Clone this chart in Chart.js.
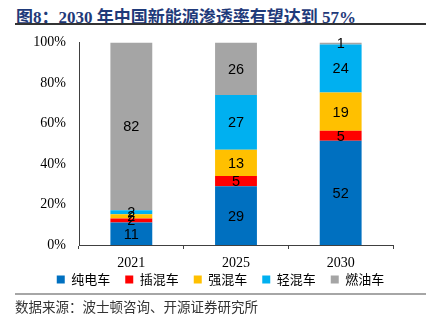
<!DOCTYPE html>
<html><head><meta charset="utf-8">
<script src="https://cdn.jsdelivr.net/npm/chart.js@4/dist/chart.umd.min.js"></script>
<style>
html,body{margin:0;padding:0;background:#fff;}
#wrap{position:relative;width:436px;height:321px;overflow:hidden;}
#title{position:absolute;left:16px;top:3px;font:bold 17px "Liberation Serif","Noto Sans CJK SC";color:#1F3A7A;white-space:nowrap;}
#tline{position:absolute;left:15px;top:23px;width:411px;height:1.5px;background:#333;}
#sline{position:absolute;left:15px;top:293px;width:411px;height:2px;background:#a6a6a6;z-index:2;}
#src{position:absolute;left:15px;top:296px;font:13.5px "Noto Sans CJK SC";color:#333;white-space:nowrap;z-index:2;}
#cv{position:absolute;left:0;top:21px;display:block;}
</style></head><body>
<div id="wrap">
<div id="title">图8：2030 年中国新能源渗透率有望达到 57%</div>
<div id="tline"></div>
<canvas id="cv" width="436" height="289"></canvas>
<div id="sline"></div>
<div id="src">数据来源：波士顿咨询、开源证券研究所</div>
</div>
<script>
const categories = ['2021', '2025', '2030'];
const seriesNames = ['纯电车', '插混车', '强混车', '轻混车', '燃油车'];
const bev  = [11, 29, 52];
const phev = [2, 5, 5];
const hev  = [2, 13, 19];
const mhev = [2, 27, 24];
const ice  = [82, 26, 1];
const yTicks = ['0%', '20%', '40%', '60%', '80%', '100%'];
const colors = ['#0070C0', '#FF0000', '#FFC000', '#00B0F0', '#A5A5A5'];

const raw = [bev, phev, hev, mhev, ice];
const totals = categories.map((c, i) => raw.reduce((s, a) => s + a[i], 0));

const datasets = raw.map((arr, k) => ({
  label: seriesNames[k],
  data: arr.map((v, i) => v / totals[i] * 100),
  rawValues: arr,
  backgroundColor: colors[k],
  borderWidth: 0,
  barPercentage: 0.4,
  categoryPercentage: 1.0
}));

const labelPlugin = {
  id: 'segLabels',
  afterLayout(chart) {
    const lg = chart.legend;
    if (lg) { lg.left += 24; lg.right += 24; lg.top -= 14; lg.bottom -= 14; }
  },
  afterDatasetsDraw(chart) {
    const ctx = chart.ctx;
    ctx.save();
    ctx.font = '14.5px "Liberation Sans", Arial';
    ctx.fillStyle = '#000';
    ctx.textAlign = 'center';
    ctx.textBaseline = 'middle';
    chart.data.datasets.forEach((ds, di) => {
      const meta = chart.getDatasetMeta(di);
      meta.data.forEach((el, i) => {
        const y = (el.y + el.base) / 2;
        ctx.fillText(String(ds.rawValues[i]), el.x, y + 1);
      });
    });
    ctx.restore();
  }
};

new Chart(document.getElementById('cv'), {
  type: 'bar',
  data: { labels: categories, datasets },
  plugins: [labelPlugin],
  options: {
    responsive: false,
    animation: false,
    layout: { padding: { top: 0, right: 43, left: 0, bottom: 0 } },
    plugins: {
      tooltip: { enabled: false },
      legend: {
        position: 'bottom',
        labels: {
          boxWidth: 8, boxHeight: 8, padding: 15,
          color: '#000',
          font: { family: '"Noto Sans CJK SC"', size: 13 }
        }
      }
    },
    scales: {
      x: {
        stacked: true,
        grid: { display: true, drawOnChartArea: false, drawTicks: true, tickLength: 4, color: '#404040', offset: true },
        border: { display: true, color: '#404040', width: 1 },
        ticks: { color: '#000', font: { family: '"Liberation Serif"', size: 14 }, padding: 6 },
        afterFit(s) { s.height = 27; }
      },
      y: {
        stacked: true,
        min: 0, max: 100,
        grid: { display: false, drawTicks: false },
        border: { display: true, color: '#404040', width: 1 },
        ticks: {
          stepSize: 20,
          color: '#000',
          font: { family: '"Liberation Serif"', size: 14 },
          padding: 13,
          callback: (v) => yTicks[Math.round(v / 20)]
        },
        afterFit(s) { s.width = 79; }
      }
    }
  }
});
</script>
</body></html>
